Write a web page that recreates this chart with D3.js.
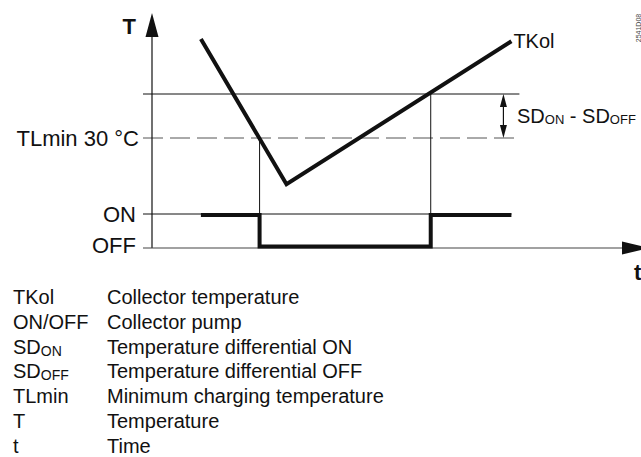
<!DOCTYPE html>
<html>
<head>
<meta charset="utf-8">
<script src="https://cdn.jsdelivr.net/npm/d3@7"></script>
<style>
  html, body { margin: 0; padding: 0; background: #fff; }
  svg { display: block; font-family: "Liberation Sans", Arial, sans-serif; }
</style>
</head>
<body>
<svg id="chart" width="641" height="457"></svg>
<script>
// Collector temperature curve (time units, °C)
const tkolTime = [10, 27.5, 73.5];
const tkolTemp = [52.5, 19.5, 52];

// Collector pump state over time
const pumpTime  = [10, 22, 22, 57, 57, 73.5];
const pumpState = ["ON", "ON", "OFF", "OFF", "ON", "ON"];
const pumpLevels = ["OFF", "ON"];

// Thresholds
const tlMin = 30;      // minimum charging temperature
const sdDiff = 10;     // SD_ON - SD_OFF band above TLmin

// Legend
const legendKeys = [["TKol"], ["ON/OFF"], ["SD", "ON"], ["SD", "OFF"], ["TLmin"], ["T"], ["t"]];
const legendText = [
  "Collector temperature",
  "Collector pump",
  "Temperature differential ON",
  "Temperature differential OFF",
  "Minimum charging temperature",
  "Temperature",
  "Time"
];

const svg = d3.select("#chart");
const x = d3.scaleLinear().domain([0, 100]).range([152, 641]);
const y = d3.scaleLinear().domain([tlMin, tlMin + sdDiff]).range([138, 94]);
const yPump = d3.scalePoint().domain(pumpLevels).range([248, 214]);

const axisX = x(0), axisY = yPump("OFF");
const tickLen = 9;
const ink = "#111";

// reference lines
const tEnd = tkolTime[tkolTime.length - 1];
svg.append("line")
  .attr("x1", axisX - tickLen).attr("x2", x(tEnd) + 8)
  .attr("y1", y(tlMin + sdDiff)).attr("y2", y(tlMin + sdDiff))
  .attr("stroke", ink).attr("stroke-width", 1);
svg.append("line")
  .attr("x1", axisX - tickLen).attr("x2", x(tEnd) + 3)
  .attr("y1", y(tlMin)).attr("y2", y(tlMin))
  .attr("stroke", "#555").attr("stroke-width", 1)
  .attr("stroke-dasharray", "20,7");
svg.append("line")
  .attr("x1", axisX - tickLen).attr("x2", x(tEnd))
  .attr("y1", yPump("ON")).attr("y2", yPump("ON"))
  .attr("stroke", ink).attr("stroke-width", 1);

// switching points
const tOff = pumpTime[2], tOn = pumpTime[4];
svg.append("line")
  .attr("x1", x(tOff)).attr("x2", x(tOff))
  .attr("y1", y(tlMin)).attr("y2", axisY)
  .attr("stroke", ink).attr("stroke-width", 1);
svg.append("line")
  .attr("x1", x(tOn)).attr("x2", x(tOn))
  .attr("y1", y(tlMin + sdDiff)).attr("y2", axisY)
  .attr("stroke", ink).attr("stroke-width", 1);

// axes
svg.append("line")
  .attr("x1", axisX).attr("x2", axisX)
  .attr("y1", axisY).attr("y2", 30)
  .attr("stroke", ink).attr("stroke-width", 1.2);
svg.append("path")
  .attr("d", `M${axisX},13 L${axisX - 6.5},37 L${axisX + 6.5},37 Z`)
  .attr("fill", ink);
svg.append("line")
  .attr("x1", axisX - tickLen).attr("x2", 630)
  .attr("y1", axisY).attr("y2", axisY)
  .attr("stroke", "#444").attr("stroke-width", 1.2);
svg.append("path")
  .attr("d", `M622,${axisY - 6.5} L650,${axisY} L622,${axisY + 6.5} Z`)
  .attr("fill", ink);

svg.append("text").attr("x", 136).attr("y", 34)
  .attr("text-anchor", "end").attr("font-size", 22).attr("font-weight", "bold")
  .attr("fill", ink).text("T");
svg.append("text").attr("x", 634).attr("y", 280)
  .attr("font-size", 22).attr("font-weight", "bold")
  .attr("fill", ink).text("t");

// SD band arrow
const ax = x(tEnd) - 8;
const yTop = y(tlMin + sdDiff), yBot = y(tlMin);
svg.append("line").attr("x1", ax).attr("x2", ax)
  .attr("y1", yTop + 6).attr("y2", yBot - 6)
  .attr("stroke", ink).attr("stroke-width", 1.2);
svg.append("path")
  .attr("d", `M${ax},${yTop} L${ax - 3.5},${yTop + 13} L${ax + 3.5},${yTop + 13} Z`)
  .attr("fill", ink);
svg.append("path")
  .attr("d", `M${ax},${yBot} L${ax - 3.5},${yBot - 13} L${ax + 3.5},${yBot - 13} Z`)
  .attr("fill", ink);

const sdLabel = svg.append("text").attr("x", 517).attr("y", 123)
  .attr("font-size", 20).attr("fill", ink);
sdLabel.append("tspan").text("SD");
sdLabel.append("tspan").attr("font-size", 13).attr("dy", 1).text("ON");
sdLabel.append("tspan").attr("dy", -1).text(" - SD");
sdLabel.append("tspan").attr("font-size", 13).attr("dy", 1).text("OFF");

// left labels
svg.append("text").attr("x", 139).attr("y", y(tlMin)).attr("dy", "0.35em")
  .attr("text-anchor", "end").attr("font-size", 22).attr("fill", ink)
  .text("TLmin 30 °C");
pumpLevels.forEach(l => {
  svg.append("text").attr("x", 136).attr("y", yPump(l) + (l === "OFF" ? -3 : 0)).attr("dy", "0.35em")
    .attr("text-anchor", "end").attr("font-size", 22).attr("fill", ink).text(l);
});

// TKol curve
const tkol = tkolTime.map((t, i) => [x(t), y(tkolTemp[i])]);
svg.append("path")
  .attr("d", d3.line()(tkol))
  .attr("fill", "none").attr("stroke", ink).attr("stroke-width", 4)
  .attr("stroke-linejoin", "miter");
svg.append("text")
  .attr("x", x(tEnd) + 2).attr("y", 48)
  .attr("font-size", 20).attr("fill", ink).text("TKol");

// pump curve
const pump = pumpTime.map((t, i) => [x(t), yPump(pumpState[i]) + (pumpState[i] === "OFF" ? -1.5 : 1)]);
svg.append("path")
  .attr("d", d3.line()(pump))
  .attr("fill", "none").attr("stroke", ink).attr("stroke-width", 4)
  .attr("stroke-linejoin", "miter");

// drawing number
svg.append("text")
  .attr("transform", "translate(641,28) rotate(-90)")
  .attr("text-anchor", "middle").attr("font-size", 7).attr("fill", "#444")
  .text("2541D08");

// legend
const legend = svg.append("g");
legendKeys.forEach((k, i) => {
  const yy = 304 + i * 24.8;
  const key = legend.append("text").attr("x", 13).attr("y", yy)
    .attr("font-size", 20).attr("fill", ink);
  key.append("tspan").text(k[0]);
  if (k[1]) key.append("tspan").attr("font-size", 14).attr("dy", 2).text(k[1]);
  legend.append("text").attr("x", 107).attr("y", yy)
    .attr("font-size", 20).attr("fill", ink).text(legendText[i]);
});
</script>
</body>
</html>
